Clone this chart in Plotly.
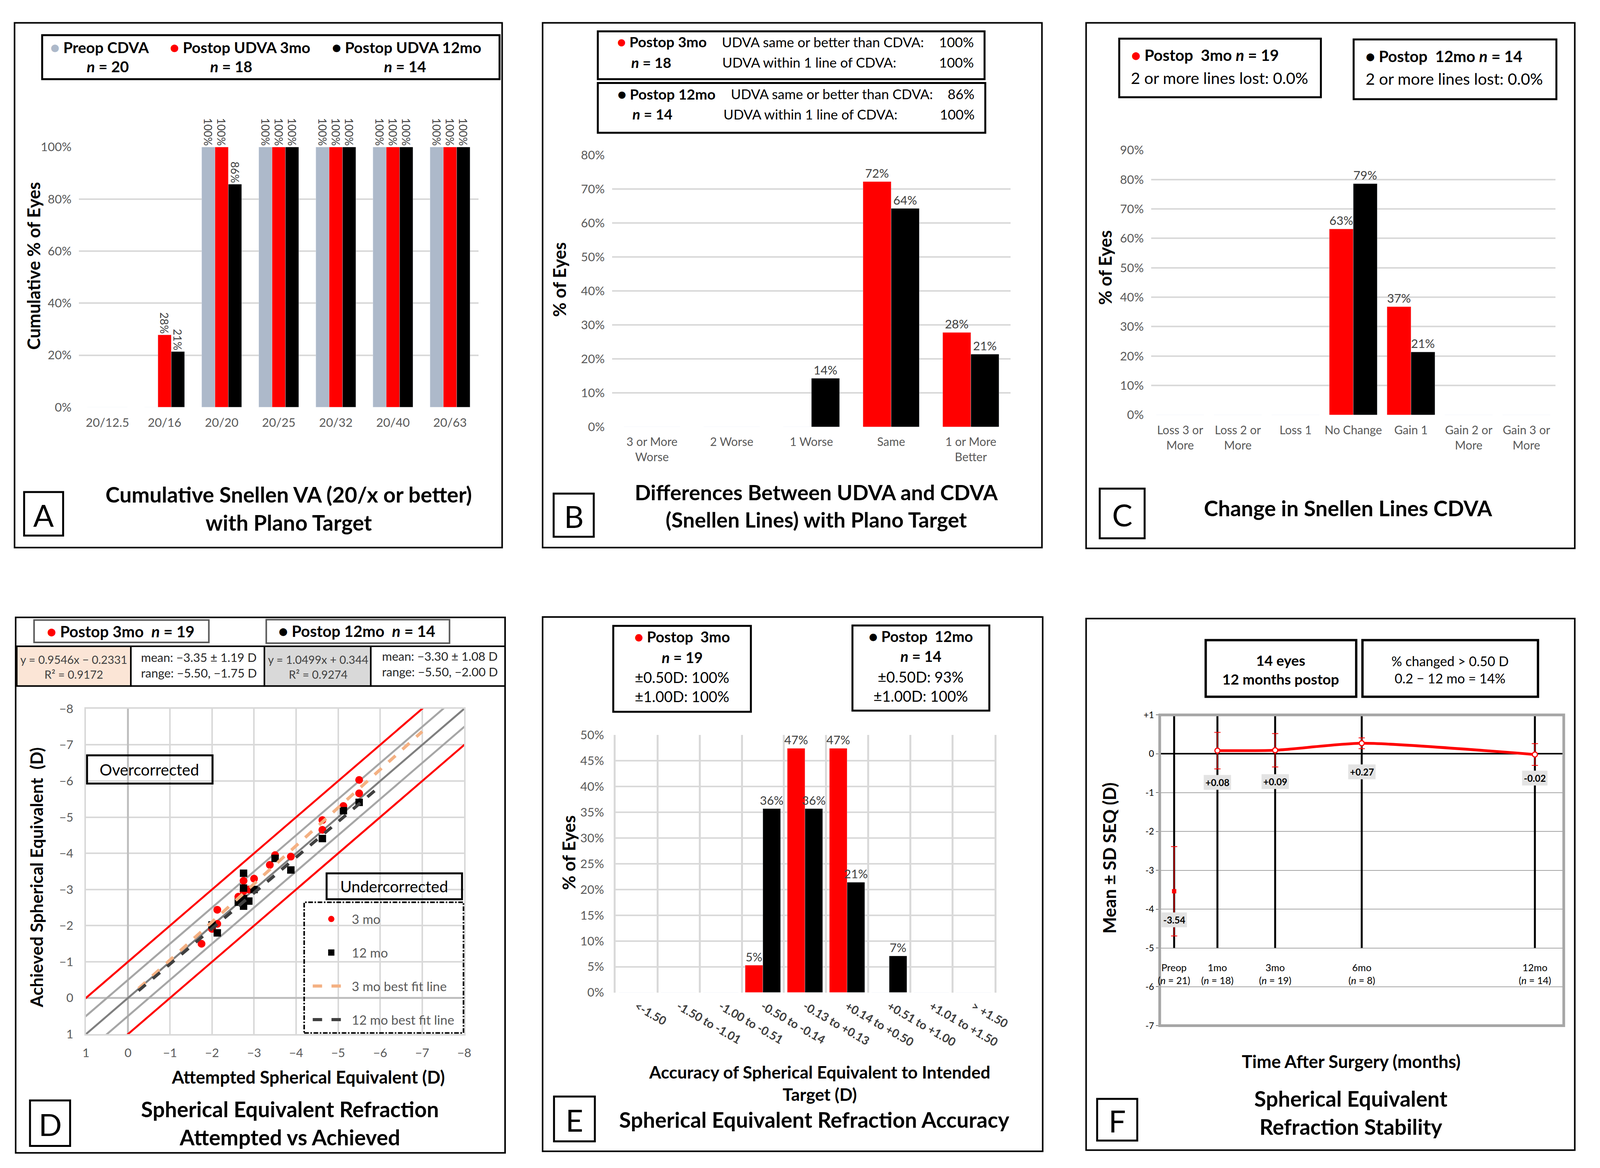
import plotly.graph_objects as go

W, H = 4295, 2991
FONT = "Lato"
GRID = "#D9D9D9"
TXT = "#595959"
RED = "#FF0000"
BLUEGRAY = "#ADB9CA"

# ---------------- data ----------------
a_cats = ["20/12.5", "20/16", "20/20", "20/25", "20/32", "20/40", "20/63"]
a_preop = [0, 0, 100, 100, 100, 100, 100]
a_3mo = [0, 27.8, 100, 100, 100, 100, 100]
a_12mo = [0, 21.4, 85.7, 100, 100, 100, 100]

b_cats = ["3 or More<br>Worse", "2 Worse", "1 Worse", "Same", "1 or More<br>Better"]
b_3mo = [0, 0, 0, 72.2, 27.8]
b_12mo = [0, 0, 14.3, 64.3, 21.4]

c_cats = ["Loss 3 or<br>More", "Loss 2 or<br>More", "Loss 1", "No Change", "Gain 1",
          "Gain 2 or<br>More", "Gain 3 or<br>More"]
c_3mo = [0, 0, 0, 63.2, 36.8, 0, 0]
c_12mo = [0, 0, 0, 78.6, 21.4, 0, 0]

d3_att = [-1.75, -2.0, -2.125, -2.125, -2.625, -2.75, -2.75, -3.0, -3.375, -3.5,
          -3.875, -4.625, -4.625, -5.125, -5.5, -5.5, -2.75, -2.75, -2.875]
d3_ach = [-1.50, -1.91, -2.44, -2.05, -2.80, -2.73, -3.24, -3.30, -3.68, -3.95,
          -3.91, -4.92, -4.65, -5.31, -6.03, -5.66, -2.95, -2.60, -3.00]
d12_att = [-2.0, -2.125, -2.75, -2.75, -2.75, -2.875, -3.0, -3.5, -3.875, -4.625,
           -5.125, -5.5, -2.625, -2.75]
d12_ach = [-2.02, -1.80, -3.45, -3.04, -2.54, -2.68, -3.00, -3.86, -3.54, -4.41,
           -5.18, -5.41, -2.65, -2.75]
d_fit3_x = [-0.25, -7.0]
d_fit3_y = [-0.26, -7.37]
d_fit12_x = [-0.25, -6.0]
d_fit12_y = [-0.20, -5.86]
d_ref_x = [1.5, -8.5]
d_ref_offsets = [-1.0, -0.5, 0.0, 0.5, 1.0]

e_cats = ["<-1.50", "-1.50 to -1.01", "-1.00 to -0.51", "-0.50 to -0.14", "-0.13 to +0.13",
          "+0.14 to +0.50", "+0.51 to +1.00", "+1.01 to +1.50", "> +1.50"]
e_3mo = [0, 0, 0, 5.3, 47.4, 47.4, 0, 0, 0]
e_12mo = [0, 0, 0, 35.7, 35.7, 21.4, 7.1, 0, 0]

f_labels = ["Preop", "1mo", "3mo", "6mo", "12mo"]
f_n = [21, 18, 19, 8, 14]
f_month = [-0.5, 1, 3, 6, 12]
f_mean = [-3.54, 0.08, 0.09, 0.27, -0.02]
f_sd = [1.15, 0.47, 0.43, 0.14, 0.28]


# ---------------- helpers ----------------
def fx(p):
    return p / W


def fy(p):
    return 1 - p / H


def pct(vals):
    return ["%d%%" % round(v) if v > 0 else "" for v in vals]


shapes = []
annotations = []


def rect(x0, y0, x1, y1, width=4, color="black", fill="rgba(0,0,0,0)", dash="solid"):
    shapes.append(dict(type="rect", xref="paper", yref="paper", x0=fx(x0), x1=fx(x1),
                       y0=fy(y1), y1=fy(y0), line=dict(color=color, width=width, dash=dash),
                       fillcolor=fill, layer="above"))


def ann(text, x, y, size, bold=False, color="black", xanchor="center", yanchor="middle",
        angle=0, align="center"):
    if bold:
        text = "<b>" + text + "</b>"
    annotations.append(dict(text=text, x=fx(x), y=fy(y), xref="paper", yref="paper",
                            showarrow=False, xanchor=xanchor, yanchor=yanchor, textangle=angle,
                            align=align, font=dict(family=FONT, size=size, color=color)))


def dot(color):
    return "<span style='color:%s'>●</span>" % color


fig = go.Figure()
BARLAB = dict(size=31, color="#404040", family=FONT)

# ---------------- Panel A ----------------
for vals, col, off in [(a_preop, BLUEGRAY, -0.35), (a_3mo, RED, -0.1167), (a_12mo, "black", 0.1167)]:
    fig.add_trace(go.Bar(x=a_cats, y=vals, marker_color=col, width=0.2333, offset=off,
                         text=pct(vals), textposition="outside", textangle=90,
                         textfont=dict(size=28, color="#404040", family=FONT),
                         constraintext="none", cliponaxis=False, showlegend=False,
                         xaxis="x", yaxis="y"))

# ---------------- Panel B ----------------
for vals, col, off in [(b_3mo, RED, -0.353), (b_12mo, "black", 0.0)]:
    fig.add_trace(go.Bar(x=b_cats, y=vals, marker_color=col, width=0.353, offset=off,
                         text=pct(vals), textposition="outside", textfont=BARLAB,
                         constraintext="none", cliponaxis=False, showlegend=False,
                         xaxis="x2", yaxis="y2"))

# ---------------- Panel C ----------------
for vals, col, off in [(c_3mo, RED, -0.415), (c_12mo, "black", 0.0)]:
    fig.add_trace(go.Bar(x=c_cats, y=vals, marker_color=col, width=0.415, offset=off,
                         text=pct(vals), textposition="outside", textfont=BARLAB,
                         constraintext="none", cliponaxis=False, showlegend=False,
                         xaxis="x3", yaxis="y3"))

# ---------------- Panel D ----------------
ref_style = {-1.0: (RED, 5), -0.5: ("#A6A6A6", 5), 0.0: ("#7F7F7F", 5), 0.5: ("#A6A6A6", 5), 1.0: (RED, 5)}
for off in d_ref_offsets:
    col, wd = ref_style[off]
    fig.add_trace(go.Scatter(x=d_ref_x, y=[v + off for v in d_ref_x], mode="lines",
                             line=dict(color=col, width=wd), showlegend=False,
                             hoverinfo="skip", xaxis="x4", yaxis="y4"))
fig.add_trace(go.Scatter(x=d3_att, y=d3_ach, mode="markers", name="3 mo",
                         marker=dict(color=RED, size=20, symbol="circle"),
                         legendgroup="g1", legendrank=1, xaxis="x4", yaxis="y4"))
fig.add_trace(go.Scatter(x=d12_att, y=d12_ach, mode="markers", name="12 mo",
                         marker=dict(color="black", size=19, symbol="square"),
                         legendgroup="g2", legendrank=2, xaxis="x4", yaxis="y4"))
fig.add_trace(go.Scatter(x=d_fit3_x, y=d_fit3_y, mode="lines", name="3 mo best fit line",
                         line=dict(color="#F4B183", width=8, dash="dash"),
                         legendgroup="g3", legendrank=3, xaxis="x4", yaxis="y4"))
fig.add_trace(go.Scatter(x=d_fit12_x, y=d_fit12_y, mode="lines", name="12 mo best fit line",
                         line=dict(color="#404040", width=8, dash="dash"),
                         legendgroup="g4", legendrank=4, xaxis="x4", yaxis="y4"))

# ---------------- Panel E ----------------
e_x = list(range(len(e_cats)))
for vals, col, off in [(e_3mo, RED, -0.42), (e_12mo, "black", 0.0)]:
    fig.add_trace(go.Bar(x=e_x, y=vals, marker_color=col, width=0.42, offset=off,
                         text=pct(vals), textposition="outside", textfont=BARLAB,
                         constraintext="none", cliponaxis=False, showlegend=False,
                         xaxis="x5", yaxis="y5"))

# ---------------- Panel F ----------------
vx, vy = [], []
for m in f_month:
    vx += [m, m, None]
    vy += [1, -5, None]
fig.add_trace(go.Scatter(x=vx, y=vy, mode="lines", line=dict(color="black", width=5),
                         showlegend=False, hoverinfo="skip", xaxis="x6", yaxis="y6"))
fig.add_trace(go.Scatter(x=f_month[1:], y=f_mean[1:], mode="lines+markers",
                         line=dict(color=RED, width=7, shape="spline", smoothing=0.6),
                         marker=dict(symbol="circle", size=13, color="white",
                                     line=dict(color=RED, width=3)),
                         error_y=dict(type="data", array=f_sd[1:], color=RED, thickness=2, width=8),
                         showlegend=False, xaxis="x6", yaxis="y6"))
fig.add_trace(go.Scatter(x=f_month[:1], y=f_mean[:1], mode="markers",
                         marker=dict(symbol="square", size=11, color=RED),
                         error_y=dict(type="data", array=f_sd[:1], color=RED, thickness=2, width=8),
                         showlegend=False, xaxis="x6", yaxis="y6"))
lab_dy = [-0.74, -0.82, -0.81, -0.74, -0.61]
for m, v, dy, lb, n in zip(f_month, f_mean, lab_dy, f_labels, f_n):
    annotations.append(dict(text="<b>%+.2f</b>" % v, x=m, y=v + dy, xref="x6", yref="y6",
                            showarrow=False, bgcolor="#E3E3E3", borderpad=4,
                            font=dict(family=FONT, size=24, color="black")))
    annotations.append(dict(text="%s<br>(<i>n</i> = %d)" % (lb, n), x=m, y=-5.66, xref="x6", yref="y6",
                            showarrow=False, font=dict(family=FONT, size=25, color="black")))

# ---------------- axes ----------------
tickfont = dict(family=FONT, size=31, color=TXT)
catfont = dict(family=FONT, size=30, color=TXT)


def xcat(dom, anchor, font):
    return dict(domain=dom, anchor=anchor, showgrid=False, showline=False, ticks="",
                tickfont=font, ticklabelstandoff=18)


def ybar(dom, rng, dtick, anchor):
    return dict(domain=dom, range=rng, dtick=dtick, ticksuffix="%", showgrid=True, gridcolor=GRID,
                gridwidth=4, zeroline=False, showline=False, tickfont=tickfont, ticks="",
                ticklabelstandoff=18, anchor=anchor)


layout = dict(
    autosize=True, margin=dict(l=0, r=0, t=0, b=0, pad=0),
    paper_bgcolor="white", plot_bgcolor="white", barmode="overlay",
    font=dict(family=FONT),
    xaxis=xcat([fx(205), fx(1291)], "y", tickfont),
    yaxis=ybar([fy(1036), fy(361)], [0, 100], 20, "x"),
    xaxis2=xcat([fx(1654), fx(2737)], "y2", catfont),
    yaxis2=ybar([fy(1087), fy(382)], [0, 80], 10, "x2"),
    xaxis3=xcat([fx(3119), fx(4217)], "y3", catfont),
    yaxis3=ybar([fy(1056), fy(369)], [0, 90], 10, "x3"),
    xaxis4=dict(domain=[fx(224), fx(1252)], anchor="y4", range=[1, -8], dtick=1,
                showgrid=True, gridcolor=GRID, gridwidth=4, zeroline=True,
                zerolinecolor="#BFBFBF", zerolinewidth=5, showline=True, mirror=True,
                linecolor=GRID, linewidth=4, tickfont=tickfont, ticks="", ticklabelstandoff=18),
    yaxis4=dict(domain=[fy(2662), fy(1818)], anchor="x4", range=[1, -8], dtick=1,
                showgrid=True, gridcolor=GRID, gridwidth=4, zeroline=True,
                zerolinecolor="#BFBFBF", zerolinewidth=5, showline=True, mirror=True,
                linecolor=GRID, linewidth=4, tickfont=tickfont, ticks="", ticklabelstandoff=22),
    xaxis5=dict(domain=[fx(1663), fx(2693)], anchor="y5", range=[-0.5, 8.5],
                tickmode="array", tickvals=e_x, ticktext=["<b>%s</b>" % c for c in e_cats],
                tickangle=30, showgrid=False, zeroline=False, ticks="",
                tickfont=dict(family=FONT, size=30, color="#404040"), ticklabelstandoff=12,
                minor=dict(tick0=-0.5, dtick=1, showgrid=True, gridcolor=GRID, gridwidth=5, ticks="")),
    yaxis5=dict(domain=[fy(2554), fy(1886)], anchor="x5", range=[0, 50], dtick=5, ticksuffix="%",
                showgrid=True, gridcolor=GRID, gridwidth=4, zeroline=False, showline=True,
                mirror=True, linecolor=GRID, linewidth=5, tickfont=tickfont, ticks="",
                ticklabelstandoff=18),
    xaxis6=dict(domain=[fx(3142), fx(4240)], anchor="y6", range=[-1, 13], showticklabels=False,
                showgrid=False, zeroline=False, ticks=""),
    yaxis6=dict(domain=[fy(2640), fy(1834)], anchor="x6", range=[-7, 1], tickmode="array",
                tickvals=[1, 0, -1, -2, -3, -4, -5, -6, -7],
                ticktext=["+1", "0", "-1", "-2", "-3", "-4", "-5", "-6", "-7"],
                showgrid=True, gridcolor="#A6A6A6", gridwidth=2, zeroline=True,
                zerolinecolor="black", zerolinewidth=4, showline=True, linecolor="black",
                linewidth=2, ticks="outside", ticklen=8, tickcolor="black",
                tickfont=dict(family=FONT, size=23, color="black")),
    legend=dict(x=fx(835), y=fy(2335), xanchor="left", yanchor="top",
                bgcolor="rgba(0,0,0,0)", font=dict(family=FONT, size=33, color=TXT),
                tracegroupgap=40, itemwidth=95),
)

shapes.append(dict(type="rect", xref="x6 domain", yref="y6 domain", x0=0, x1=1, y0=0, y1=1,
                   line=dict(color="#A6A6A6", width=7), layer="above"))

# ---------------- panel frames ----------------
for (x0, y0, x1, y1) in [(30, 39, 1355, 1400), (1465, 39, 2822, 1400), (2942, 39, 4270, 1402),
                         (33, 1581, 1363, 2970), (1465, 1580, 2824, 2966), (2942, 1584, 4270, 2963)]:
    rect(x0, y0, x1, y1, width=4)

for L, (x0, y0, x1, y1) in {"A": (56, 1256, 162, 1369), "B": (1495, 1260, 1604, 1372),
                            "C": (2979, 1247, 3101, 1376), "D": (72, 2834, 181, 2952),
                            "E": (1496, 2824, 1607, 2940), "F": (2972, 2830, 3081, 2938)}.items():
    rect(x0, y0, x1, y1, width=5)
    ann(L, (x0 + x1) / 2, (y0 + y1) / 2 + 3, 78)

TITLE = 55
YT = 45

# ---- Panel A texts ----
rect(105, 71, 1348, 185, width=5)
ann(dot(BLUEGRAY) + " Preop CDVA", 262, 102, 39, bold=True)
ann("<i>n</i> = 20", 283, 152, 39, bold=True)
ann(dot(RED) + " Postop UDVA 3mo", 643, 102, 39, bold=True)
ann("<i>n</i> = 18", 619, 152, 39, bold=True)
ann(dot("black") + " Postop UDVA 12mo", 1095, 102, 39, bold=True)
ann("<i>n</i> = 14", 1091, 152, 39, bold=True)
ann("Cumulative % of Eyes", 81, 669, YT, bold=True, angle=-90)
ann("Cumulative Snellen VA (20/x or better)<br>with Plano Target", 775, 1298, TITLE, bold=True)

# ---- Panel B texts ----
rect(1615, 61, 2666, 185, width=5)
rect(1615, 195, 2668, 324, width=5)
ann(dot(RED) + " Postop 3mo", 1666, 88, 37, bold=True, xanchor="left")
ann("<i>n</i> = 18", 1760, 141, 37, bold=True)
ann("UDVA same or better than CDVA:", 1950, 88, 35, xanchor="left")
ann("100%", 2639, 88, 35, xanchor="right")
ann("UDVA within 1 line of CDVA:", 1951, 141, 35, xanchor="left")
ann("100%", 2639, 141, 35, xanchor="right")
ann(dot("black") + " Postop 12mo", 1667, 223, 37, bold=True, xanchor="left")
ann("<i>n</i> = 14", 1763, 275, 37, bold=True)
ann("UDVA same or better than CDVA:", 1974, 223, 35, xanchor="left")
ann("86%", 2641, 223, 35, xanchor="right")
ann("UDVA within 1 line of CDVA:", 1954, 275, 35, xanchor="left")
ann("100%", 2641, 275, 35, xanchor="right")
ann("% of Eyes", 1511, 705, YT, bold=True, angle=-90)
ann("Differences Between UDVA and CDVA<br>(Snellen Lines) with Plano Target", 2209, 1292, 54, bold=True)

# ---- Panel C texts ----
rect(3032, 80, 3580, 232, width=5)
rect(3669, 82, 4220, 237, width=5)
ann(dot(RED) + " Postop  3mo <i>n</i> = 19", 3063, 123, 40, bold=True, xanchor="left")
ann("2 or more lines lost: 0.0%", 3061, 182, 41, xanchor="left")
ann(dot("black") + " Postop  12mo <i>n</i> = 14", 3700, 126, 40, bold=True, xanchor="left")
ann("2 or more lines lost: 0.0%", 3699, 184, 41, xanchor="left")
ann("% of Eyes", 2994, 674, YT, bold=True, angle=-90)
ann("Change in Snellen Lines CDVA", 3654, 1297, TITLE, bold=True)

# ---- Panel D texts ----
rect(83, 1588, 558, 1646, width=4, color="#595959")
rect(714, 1587, 1212, 1648, width=4, color="#595959")
ann(dot(RED) + " Postop 3mo  <i>n</i> = 19", 318, 1618, 40, bold=True)
ann(dot("black") + " Postop 12mo  <i>n</i> = 14", 960, 1617, 40, bold=True)
rect(36, 1656, 346, 1759, width=4, fill="#FBE5D6")
rect(346, 1656, 709, 1759, width=4)
rect(709, 1656, 998, 1759, width=4, fill="#D9D9D9")
rect(998, 1656, 1363, 1759, width=4)
ann("y = 0.9546x − 0.2331<br>R² = 0.9172", 191, 1709, 29, color="#404040")
ann("mean: −3.35 ± 1.19 D<br>range: −5.50, −1.75 D", 372, 1705, 31, color="#262626",
    xanchor="left", align="left")
ann("y = 1.0499x + 0.344<br>R² = 0.9274", 855, 1709, 29, color="#404040")
ann("mean: −3.30 ± 1.08 D<br>range: −5.50, −2.00 D", 1026, 1702, 31, color="#262626",
    xanchor="left", align="left")
rect(227, 1939, 568, 2012, width=5)
ann("Overcorrected", 397, 1976, 40)
rect(878, 2245, 1246, 2312, width=5)
ann("Undercorrected", 1062, 2279, 40)
rect(817, 2320, 1250, 2659, width=4, dash="dashdot")
ann("Achieved Spherical Equivalent  (D)", 90, 2255, 44, bold=True, angle=-90)
ann("Attempted Spherical Equivalent (D)", 828, 2773, 45, bold=True)
ann("Spherical Equivalent Refraction<br>Attempted vs Achieved", 779, 2893, TITLE, bold=True)

# ---- Panel E texts ----
rect(1657, 1603, 2031, 1826, width=5)
rect(2307, 1602, 2679, 1823, width=5)
ann(dot(RED) + " Postop  3mo", 1844, 1631, 38, bold=True)
ann("<i>n</i> = 19", 1844, 1684, 38, bold=True)
ann("±0.50D: 100%<br>±1.00D: 100%", 1844, 1761, 38)
ann(dot("black") + " Postop  12mo", 2493, 1630, 38, bold=True)
ann("<i>n</i> = 14", 2493, 1681, 38, bold=True)
ann("±0.50D: 93%<br>±1.00D: 100%", 2493, 1760, 38)
ann("% of Eyes", 1536, 2191, YT, bold=True, angle=-90)
ann("Accuracy of Spherical Equivalent to Intended<br>Target (D)", 2218, 2789, 44, bold=True)
ann("Spherical Equivalent Refraction Accuracy", 2203, 2884, TITLE, bold=True)

# ---- Panel F texts ----
rect(3267, 1640, 3676, 1787, width=6)
rect(3693, 1640, 4170, 1787, width=6)
ann("14 eyes<br>12 months postop", 3471, 1716, 37, bold=True)
ann("% changed > 0.50 D<br>0.2 − 12 mo = 14%", 3931, 1716, 34)
ann("Mean ± SD SEQ (D)", 3005, 2205, 45, bold=True, angle=-90)
ann("Time After Surgery (months)", 3662, 2733, 45, bold=True)
ann("Spherical Equivalent<br>Refraction Stability", 3662, 2865, TITLE, bold=True)

layout["shapes"] = shapes
layout["annotations"] = annotations
fig.update_layout(**layout)
fig.write_html(
    "out.html",
    default_width="100vw",
    default_height="100vh",
    config={"responsive": True, "displayModeBar": False},
    post_script=("document.body.style.margin='0';document.body.style.overflow='hidden';"
                 "Plotly.Plots.resize(document.getElementById('{plot_id}'));"),
)
